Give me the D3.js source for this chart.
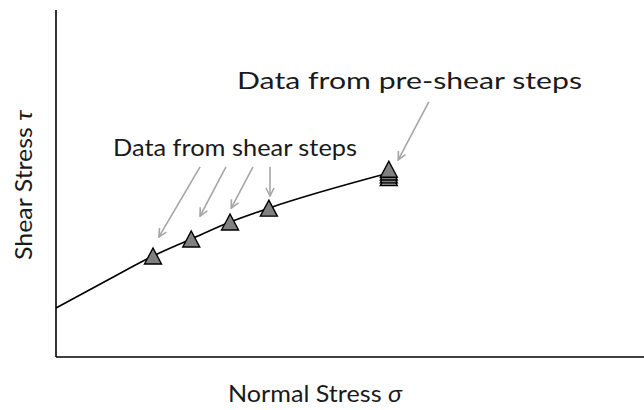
<!DOCTYPE html>
<html><head><meta charset="utf-8">
<script src="https://cdn.jsdelivr.net/npm/d3@7"></script>
<style>html,body{margin:0;padding:0;background:#fff;}svg{display:block;}</style>
</head><body>
<svg id="chart" width="644" height="410"></svg>
<script>
// Schematic data (normalized units, 0..1)
const curveX = [0, 0.088, 0.165, 0.23, 0.296, 0.362, 0.566];
const curveY = [0.141, 0.222, 0.291, 0.34, 0.389, 0.429, 0.53];
const shearX = [0.165, 0.23, 0.296, 0.362];
const shearY = [0.291, 0.34, 0.389, 0.429];
const preX = [0.566, 0.566, 0.566, 0.566];
const preY = [0.517, 0.525, 0.533, 0.541];
const arrowFromX = [0.245, 0.289, 0.335, 0.364, 0.634];
const arrowFromY = [0.548, 0.548, 0.548, 0.548, 0.735];
const arrowToX = [0.175, 0.245, 0.298, 0.364, 0.582];
const arrowToY = [0.346, 0.406, 0.429, 0.464, 0.568];
const labels = ["Data from shear steps", "Data from pre-shear steps"];
const xTitle = ["Normal Stress ", "σ"];
const yTitle = ["Shear Stress ", "τ"];

const svg = d3.select("#chart");
const mLeft = 56, mRight = 644, mTop = 10, mBottom = 357;
const x = d3.scaleLinear().domain([0, 1]).range([mLeft, mRight]);
const y = d3.scaleLinear().domain([0, 1]).range([mBottom, mTop]);
const font = "Lato, 'Open Sans', sans-serif";

svg.append("defs").append("marker")
  .attr("id", "ah").attr("viewBox", "0 0 10 10")
  .attr("refX", 9).attr("refY", 5)
  .attr("markerWidth", 10).attr("markerHeight", 10)
  .attr("markerUnits", "userSpaceOnUse")
  .attr("orient", "auto")
  .append("path").attr("d", "M1,1 L9,5 L1,9")
  .attr("fill", "none").attr("stroke", "#a6a6a6").attr("stroke-width", 1.6);

// axes
svg.append("line").attr("x1", x(0)).attr("x2", x(0)).attr("y1", y(1)).attr("y2", y(0))
  .attr("stroke", "#000").attr("stroke-width", 1.6);
svg.append("line").attr("x1", x(0)).attr("x2", x(1)).attr("y1", y(0)).attr("y2", y(0))
  .attr("stroke", "#000").attr("stroke-width", 1.6);

// curve
const pts = curveX.map((v, i) => [v, curveY[i]]);
svg.append("path").datum(pts)
  .attr("d", d3.line().x(d => x(d[0])).y(d => y(d[1])).curve(d3.curveMonotoneX))
  .attr("fill", "none").attr("stroke", "#000").attr("stroke-width", 1.6);

// triangles
const tri = "M0,-8 L8.5,8 L-8.5,8 Z";
function drawTri(xs, ys) {
  svg.append("g").selectAll("path").data(xs.map((v, i) => [v, ys[i]])).join("path")
    .attr("d", tri)
    .attr("transform", d => `translate(${x(d[0])},${y(d[1])})`)
    .attr("fill", "#808080").attr("stroke", "#000").attr("stroke-width", 1.4)
    .attr("stroke-linejoin", "miter");
}
drawTri(shearX, shearY);
drawTri(preX, preY);

// arrows
svg.append("g").selectAll("line").data(arrowFromX.map((v, i) => i)).join("line")
  .attr("x1", i => x(arrowFromX[i])).attr("y1", i => y(arrowFromY[i]))
  .attr("x2", i => x(arrowToX[i])).attr("y2", i => y(arrowToY[i]))
  .attr("stroke", "#a6a6a6").attr("stroke-width", 1.6)
  .attr("marker-end", "url(#ah)");

// texts
function txt(parts, px, py, w, rot) {
  const t = svg.append("text")
    .attr("font-family", font).attr("font-size", 23).attr("fill", "#1a1a1a")
    .attr("textLength", w).attr("lengthAdjust", "spacingAndGlyphs");
  [].concat(parts).forEach((p, i) => {
    const s = t.append("tspan").text(p);
    if (i === 1) s.attr("font-style", "italic");
  });
  if (rot) t.attr("transform", `translate(${px},${py}) rotate(-90)`);
  else t.attr("x", px).attr("y", py);
  return t;
}
txt(labels[0], 113, 156, 244);
txt(labels[1], 237, 89, 345);
txt(xTitle, 228, 402, 174);
txt(yTitle, 32, 260, 150, true);
</script>
</body></html>
